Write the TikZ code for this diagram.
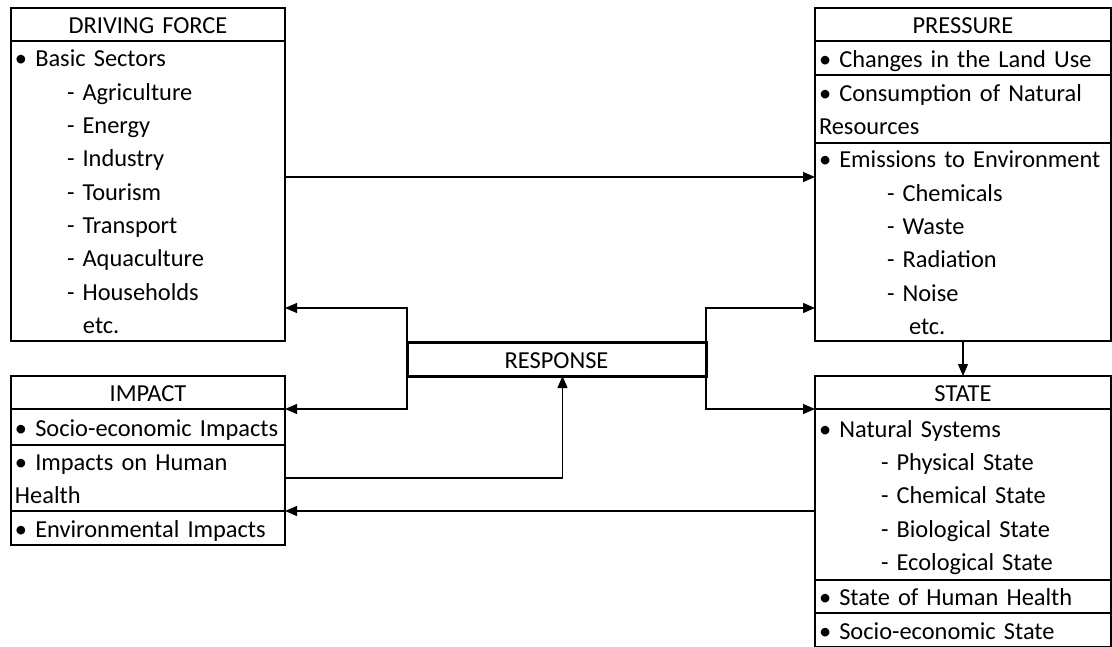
\documentclass[tikz,border=0pt]{standalone}
\usepackage{fontspec}
\setmainfont{Carlito}
\usetikzlibrary{arrows.meta}

\begin{document}
\begin{tikzpicture}[
    x=1pt, y=-1pt,
    font=\fontsize{24.4}{33.3}\selectfont,
    box/.style={draw, line width=2.5pt, anchor=north west, inner xsep=4pt, inner ysep=0pt, outer sep=0pt,
        execute at begin node=\rule{0pt}{24pt}, execute at end node=\rule[-5.6pt]{0pt}{0pt}},
    head/.style={box, align=center},
    items/.style={box, align=left},
    narrow/.style={minimum width=274pt, text width=266pt},
    wide/.style={minimum width=296pt, text width=288pt},
    conn/.style={line width=1.1pt, -{Triangle[length=12pt, width=10pt]}}
]
\useasboundingbox (0,0) rectangle (1112,647);

\node[head, narrow, minimum height=33pt] (dfhead) at (11,8) {DRIVING FORCE};
\node[items, narrow, minimum height=300pt] (dfbody) at (dfhead.south west) {%
    \mbox{• Basic Sectors}\\
    \hspace*{52pt}- Agriculture\\
    \hspace*{52pt}- Energy\\
    \hspace*{52pt}- Industry\\
    \hspace*{52pt}- Tourism\\
    \hspace*{52pt}- Transport\\
    \hspace*{52pt}- Aquaculture\\
    \hspace*{52pt}- Households\\
    \hspace*{68pt}etc.};

\node[head, wide, minimum height=33pt] (prhead) at (815,8) {PRESSURE};
\node[items, wide, minimum height=34pt] (prone) at (prhead.south west) {\mbox{• Changes in the Land Use}};
\node[items, wide, minimum height=68pt] (prtwo) at (prone.south west) {\mbox{• Consumption of Natural}\\Resources};
\node[items, wide, minimum height=198pt] (prthree) at (prtwo.south west) {%
    \mbox{• Emissions to Environment}\\
    \hspace*{68pt}- Chemicals\\
    \hspace*{68pt}- Waste\\
    \hspace*{68pt}- Radiation\\
    \hspace*{68pt}- Noise\\
    \hspace*{90pt}etc.};

\node[head, line width=3pt, minimum width=299pt, text width=291pt, minimum height=34pt] (resp) at (407,342) {RESPONSE};

\node[head, narrow, minimum height=33pt] (imhead) at (11,376) {IMPACT};
\node[items, narrow, minimum height=36pt] (imone) at (imhead.south west) {\mbox{• Socio-economic Impacts}};
\node[items, narrow, minimum height=66pt] (imtwo) at (imone.south west) {\mbox{• Impacts on Human}\\Health};
\node[items, narrow, minimum height=34pt] (imthree) at (imtwo.south west) {\mbox{• Environmental Impacts}};

\node[head, wide, minimum height=33pt] (sthead) at (815,376) {STATE};
\node[items, wide, minimum height=171pt] (stone) at (sthead.south west) {%
    \mbox{• Natural Systems}\\
    \hspace*{62pt}- Physical State\\
    \hspace*{62pt}- Chemical State\\
    \hspace*{62pt}- Biological State\\
    \hspace*{62pt}- Ecological State};
\node[items, wide, minimum height=33pt] (sttwo) at (stone.south west) {\mbox{• State of Human Health}};
\node[items, wide, minimum height=34pt] (stthree) at (sttwo.south west) {\mbox{• Socio-economic State}};

\draw[conn] ([yshift=14pt]dfbody.east) -- ([yshift=14pt]dfbody.east -| prthree.west);
\draw[conn] (resp.north west) |- ([yshift=33pt]dfbody.south east);
\draw[conn] (resp.south west) |- (imone.north east);
\draw[conn] (resp.north east) |- ([yshift=33pt]prthree.south west);
\draw[conn] (resp.south east) |- (stone.north west);
\draw[conn] (prthree.south) -- (sthead.north);
\draw[conn] (imtwo.east) -| ([xshift=6pt]resp.south);
\draw[conn] (imthree.north east -| stone.west) -- (imthree.north east);
\end{tikzpicture}
\end{document}
